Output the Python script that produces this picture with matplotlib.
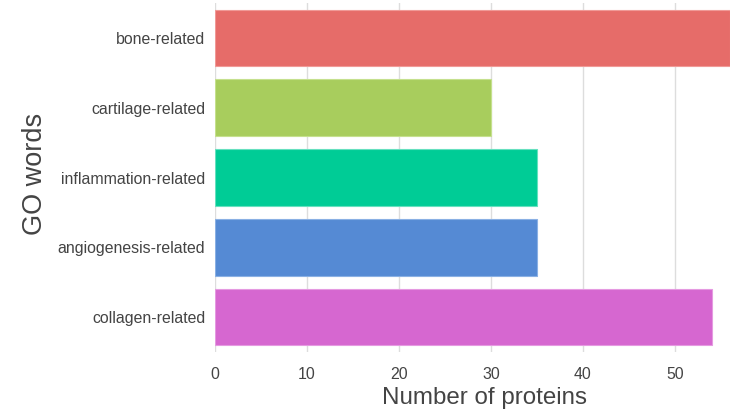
import matplotlib
matplotlib.use("Agg")
import matplotlib.pyplot as plt

categories = ["bone-related", "cartilage-related", "inflammation-related", "angiogenesis-related", "collagen-related"]
values = [56, 30, 35, 35, 54]
colors = ["#E66C69", "#A8CD5D", "#00CC96", "#558AD4", "#D667D0"]
edges = ["#F09A97", "#C5E08E", "#66E0BF", "#8AB0E4", "#E59AE1"]
xticks = [0, 10, 20, 30, 40, 50]

plt.rcParams['font.family'] = ['Liberation Sans', 'DejaVu Sans']
fig = plt.figure(figsize=(7.35, 4.11), dpi=100)
ax = fig.add_axes([215/735, 59/411, 515/735, 349/411])
ypos = list(range(len(categories)))
ax.barh(ypos, values, height=0.81, color=colors, edgecolor=edges, linewidth=0.8, zorder=3)
ax.set_ylim(len(categories) - 0.5, -0.5)
ax.set_xlim(0, 56)
ax.set_yticks(ypos)
ax.set_yticklabels(categories, fontsize=11.4, color="#444444")
ax.set_xticks(xticks)
ax.set_xticklabels([str(t) for t in xticks], fontsize=11.4, color="#444444")
ax.tick_params(axis="y", length=0, pad=7)
ax.tick_params(axis="x", length=0, pad=11)
ax.grid(axis="x", color="#DDDDDD", linewidth=1, zorder=0)
for s in ax.spines.values():
    s.set_visible(False)
ax.set_xlabel("Number of proteins", fontsize=17.4, color="#444444")
ax.xaxis.set_label_coords(0.524, -0.1, transform=ax.transAxes)
ax.set_ylabel("GO words", fontsize=19.5, color="#444444")
ax.yaxis.set_label_coords(-0.324, 0.51, transform=ax.transAxes)
fig.savefig("out.png", dpi=100)
